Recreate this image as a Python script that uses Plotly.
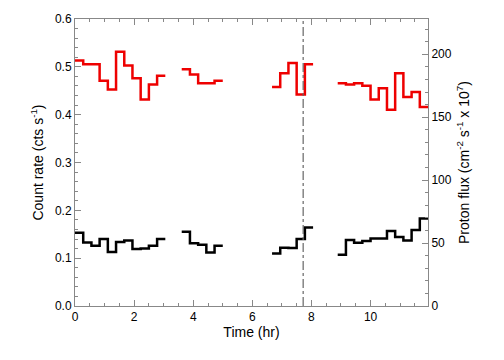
import plotly.graph_objects as go

# Bin start times (hr) for each contiguous segment, plus segment end times
seg_times = [
    [0.000, 0.278, 0.556, 0.833, 1.111, 1.389, 1.667, 1.944, 2.222, 2.500, 2.778],
    [3.611, 3.889, 4.167, 4.444, 4.722],
    [6.667, 6.944, 7.222, 7.500, 7.778],
    [8.889, 9.167, 9.444, 9.722, 10.000, 10.278, 10.556, 10.833, 11.111, 11.389, 11.667],
]
seg_ends = [3.056, 5.000, 8.056, 11.944]

count_rate = [
    [0.153, 0.133, 0.126, 0.140, 0.113, 0.134, 0.137, 0.119, 0.120, 0.126, 0.140],
    [0.155, 0.131, 0.128, 0.112, 0.126],
    [0.110, 0.122, 0.121, 0.140, 0.164],
    [0.107, 0.138, 0.132, 0.136, 0.141, 0.141, 0.157, 0.144, 0.137, 0.159, 0.183],
]
proton_flux = [
    [195, 192, 192, 179, 172, 202, 191, 181, 164, 176, 183],
    [188, 184, 177, 177, 179],
    [174, 185, 193, 168, 192],
    [177, 176, 177, 175, 164, 173, 156, 185, 166, 170, 158],
]
event_time = 7.72

x_ticks = [0, 2, 4, 6, 8, 10]
y_ticks = [0.0, 0.1, 0.2, 0.3, 0.4, 0.5, 0.6]
y2_ticks = [0, 50, 100, 150, 200]


def build(series):
    xs, ys = [], []
    for t, v, e in zip(seg_times, series, seg_ends):
        xs += t + [e, None]
        ys += v + [v[-1], None]
    return xs, ys


fig = go.Figure()
bx, by = build(count_rate)
rx, ry = build(proton_flux)
fig.add_trace(go.Scatter(x=bx, y=by, mode="lines", line=dict(color="black", width=2.5, shape="hv"),
                         connectgaps=False, showlegend=False))
fig.add_trace(go.Scatter(x=rx, y=ry, mode="lines", line=dict(color="#ee0000", width=2.5, shape="hv"),
                         connectgaps=False, showlegend=False, yaxis="y2"))

fig.add_shape(type="line", x0=event_time, x1=event_time, y0=0, y1=1, xref="x", yref="paper",
              line=dict(color="#666666", width=1.2, dash="dashdot"))

axcol = "#888888"
font = dict(family="Liberation Sans, Arial, sans-serif", size=12, color="black")
fig.update_layout(
    width=504, height=360,
    margin=dict(l=75, r=76, t=19, b=54),
    paper_bgcolor="white", plot_bgcolor="white",
    font=font,
    xaxis=dict(range=[0, 11.944], tickvals=x_ticks, ticks="inside", ticklen=6, tickcolor=axcol,
               showline=True, linecolor=axcol, linewidth=1, mirror="ticks", showgrid=False, zeroline=False,
               minor=dict(dtick=0.5, ticks="inside", ticklen=3, tickcolor=axcol),
               automargin=False, title=dict(text="Time (hr)", standoff=2)),
    yaxis=dict(range=[0, 0.6], tickvals=y_ticks, tickformat=".1f", ticks="inside", ticklen=6, tickcolor=axcol,
               showline=True, linecolor=axcol, linewidth=1, showgrid=False, zeroline=False,
               minor=dict(dtick=0.02, ticks="inside", ticklen=3, tickcolor=axcol),
               automargin=False, title=dict(text="Count rate (cts s<sup>-1</sup>)", standoff=8)),
    yaxis2=dict(range=[0, 228], overlaying="y", side="right", tickvals=y2_ticks, ticks="inside", ticklen=6,
                tickcolor=axcol, showline=True, linecolor=axcol, linewidth=1, showgrid=False, zeroline=False,
                minor=dict(dtick=10, ticks="inside", ticklen=3, tickcolor=axcol),
                automargin=False,
                title=dict(text="Proton flux (cm<sup>-2</sup> s<sup>-1</sup> x 10<sup>7</sup>)", standoff=8)),
)

fig.write_html("out.html", config={"displayModeBar": False},
               post_script="document.body.style.margin='0';")
